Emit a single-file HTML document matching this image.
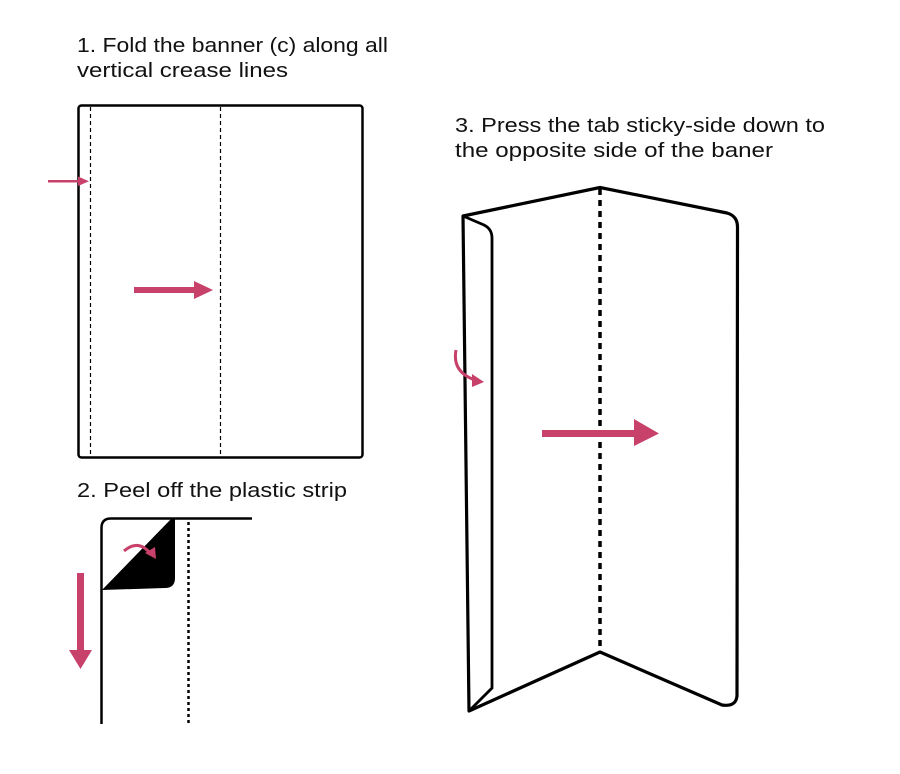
<!DOCTYPE html>
<html><head><meta charset="utf-8"><style>html,body{margin:0;padding:0;background:#fff}svg{display:block}</style></head>
<body>
<svg width="900" height="774" viewBox="0 0 900 774" xmlns="http://www.w3.org/2000/svg" font-family="Liberation Sans, sans-serif" font-size="20" fill="#111">
<text x="77" y="52" textLength="311" lengthAdjust="spacingAndGlyphs">1. Fold the banner (c) along all</text>
<text x="77" y="77" textLength="211" lengthAdjust="spacingAndGlyphs">vertical crease lines</text>
<text x="77" y="497" textLength="270" lengthAdjust="spacingAndGlyphs">2. Peel off the plastic strip</text>
<text x="455" y="132" textLength="370" lengthAdjust="spacingAndGlyphs">3. Press the tab sticky-side down to</text>
<text x="455" y="157" textLength="318" lengthAdjust="spacingAndGlyphs">the opposite side of the baner</text>
<g fill="none" stroke="#000">
<rect x="78.5" y="105.5" width="284" height="352" rx="3" stroke-width="2.5"/>
<line x1="90.5" y1="107" x2="90.5" y2="456" stroke-width="1.2" stroke-dasharray="4,3"/>
<line x1="220.5" y1="107" x2="220.5" y2="456" stroke-width="1.2" stroke-dasharray="4,3"/>
<path d="M101.5 724 V528 Q101.5 518.5 111 518.5 H252" stroke-width="2.5"/>
<line x1="188.5" y1="522" x2="188.5" y2="724" stroke-width="2.5" stroke-dasharray="3,3"/>
<path d="M463 216 L600 187.5 L727 213 Q737.5 216 737.5 227 L737 696 Q736 707 722 705 L600 652 L469 711 Z" stroke-width="3.2" stroke-linejoin="round"/>
<path d="M463 216 L484 225 Q492 229 492 238 L492 688 L469 711" stroke-width="2.8"/>
<line x1="600" y1="189" x2="600" y2="651" stroke-width="3.5" stroke-dasharray="6,5"/>
</g>
<path d="M102 590 L172 518 L175 518 L175 578 Q175 588 165 588 Z" fill="#000"/>
<g fill="#c8416b" stroke="none">
<rect x="48" y="180" width="32" height="2.5"/>
<path d="M78 176.5 L89 181.2 L78 186 Z"/>
<rect x="134" y="287" width="62" height="6"/>
<path d="M194 281 L213 290 L194 299 Z"/>
<rect x="77" y="573" width="7" height="80"/>
<path d="M69 650 L92 650 L80.5 669 Z"/>
<rect x="542" y="430" width="94" height="7"/>
<path d="M634 419 L659 433.5 L634 446 Z"/>
</g>
<g fill="none" stroke="#c8416b" stroke-width="3">
<path d="M124 551 Q138 539 150 553"/>
<path d="M456 350 Q452 372 475 380"/>
</g>
<path d="M145 553 L156 559 L155 547 Z" fill="#c8416b"/>
<path d="M472 374 L484 382 L472 387 Z" fill="#c8416b"/>
</svg>
</body></html>
